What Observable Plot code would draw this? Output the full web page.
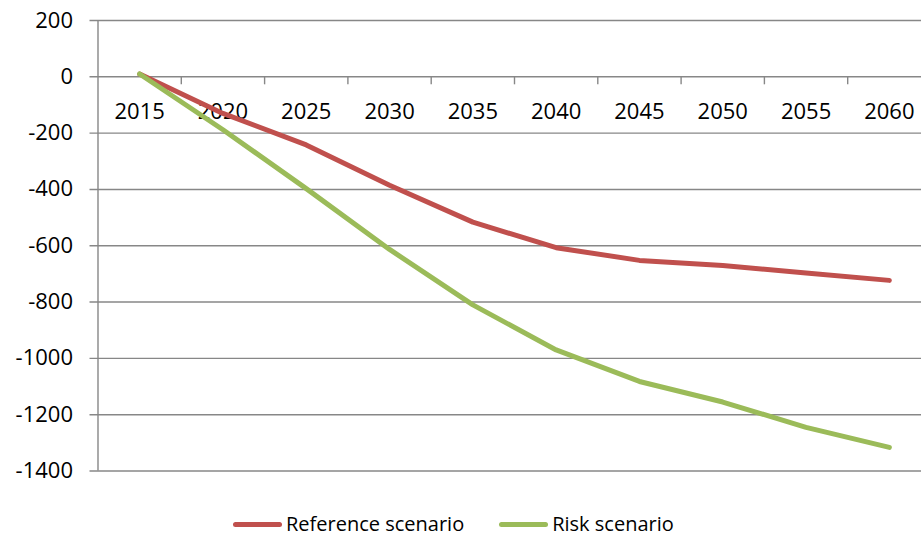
<!DOCTYPE html>
<html>
<head>
<meta charset="utf-8">
<script src="https://cdn.jsdelivr.net/npm/d3@7"></script>
<script src="https://cdn.jsdelivr.net/npm/@observablehq/plot@0.6"></script>
<style>
  html, body { margin: 0; padding: 0; background: #fff; overflow: hidden; }
  #chart svg { display: block; overflow: hidden; }
  .legend {
    display: flex; align-items: center;
    margin: 23px 0 0 233px; height: 22px; line-height: 22px;
    font-family: "Open Sans", sans-serif; font-size: 20px; color: #000;
  }
  .legend .item { display: flex; align-items: center; margin-right: 35px; }
  .legend .swatch { width: 49px; height: 5px; border-radius: 3px; margin-right: 4px; }
</style>
</head>
<body>
<div id="chart"></div>
<div class="legend" id="legend"></div>
<script>
// Years on the category axis
const years = [2015, 2020, 2025, 2030, 2035, 2040, 2045, 2050, 2055, 2060];
// Change relative to 2015 under each scenario
const referenceScenario = [10, -130, -242, -385, -516, -607, -652, -670, -697, -723];
const riskScenario = [10, -188, -397, -613, -810, -970, -1082, -1155, -1245, -1316];
// Value axis ticks
const yTicks = [200, 0, -200, -400, -600, -800, -1000, -1200, -1400];

const seriesNames = ["Reference scenario", "Risk scenario"];
const seriesColors = ["#C0504D", "#9BBB59"];

const rows = [];
years.forEach((year, i) => {
  rows.push({year, value: referenceScenario[i], series: seriesNames[0]});
  rows.push({year, value: riskScenario[i], series: seriesNames[1]});
});

// Category bands are 5 years wide; boundaries sit halfway between years
const half = (years[1] - years[0]) / 2;
const bandEdges = years.slice(0, -1).map(y => y + half);
const grid = "#878787";

const chart = Plot.plot({
  width: 921,
  height: 490,
  marginLeft: 97.5,
  marginRight: 0,
  marginTop: 20,
  marginBottom: 19.5,
  style: {fontFamily: "'Open Sans', sans-serif", fontSize: "22px", color: "#000", background: "#fff"},
  x: {type: "linear", domain: [years[0] - half, years[years.length - 1] + half], range: [97.5, 930.5], axis: null},
  y: {domain: [yTicks[yTicks.length - 1], yTicks[0]], range: [470.5, 20], axis: null},
  color: {domain: seriesNames, range: seriesColors},
  marks: [
    // horizontal gridlines, extended left to form the axis ticks
    Plot.ruleY(yTicks, {stroke: grid, strokeWidth: 1.4, insetLeft: -8}),
    // vertical value axis line
    Plot.ruleX([years[0] - half], {stroke: grid, strokeWidth: 1.4}),
    // category tick marks hanging below the zero line
    Plot.ruleX(bandEdges, {y1: () => 0, y2: () => 0, insetBottom: -8, stroke: grid, strokeWidth: 1.4}),
    // value labels
    Plot.text(yTicks, {y: d => d, frameAnchor: "left", dx: -25, textAnchor: "end", text: d => String(d), fill: "#000"}),
    // year labels just under the zero line
    Plot.text(years, {x: d => d, y: () => 0, dy: 35, text: d => String(d), fill: "#000"}),
    Plot.line(rows, {
      x: "year", y: "value", z: "series", stroke: "series",
      strokeWidth: 5, strokeLinecap: "round", strokeLinejoin: "round"
    })
  ]
});
document.getElementById("chart").append(chart);

const legend = document.getElementById("legend");
seriesNames.forEach((name, i) => {
  const item = document.createElement("div");
  item.className = "item";
  const sw = document.createElement("span");
  sw.className = "swatch";
  sw.style.background = seriesColors[i];
  const label = document.createElement("span");
  label.textContent = name;
  item.append(sw, label);
  legend.append(item);
});
</script>
</body>
</html>
